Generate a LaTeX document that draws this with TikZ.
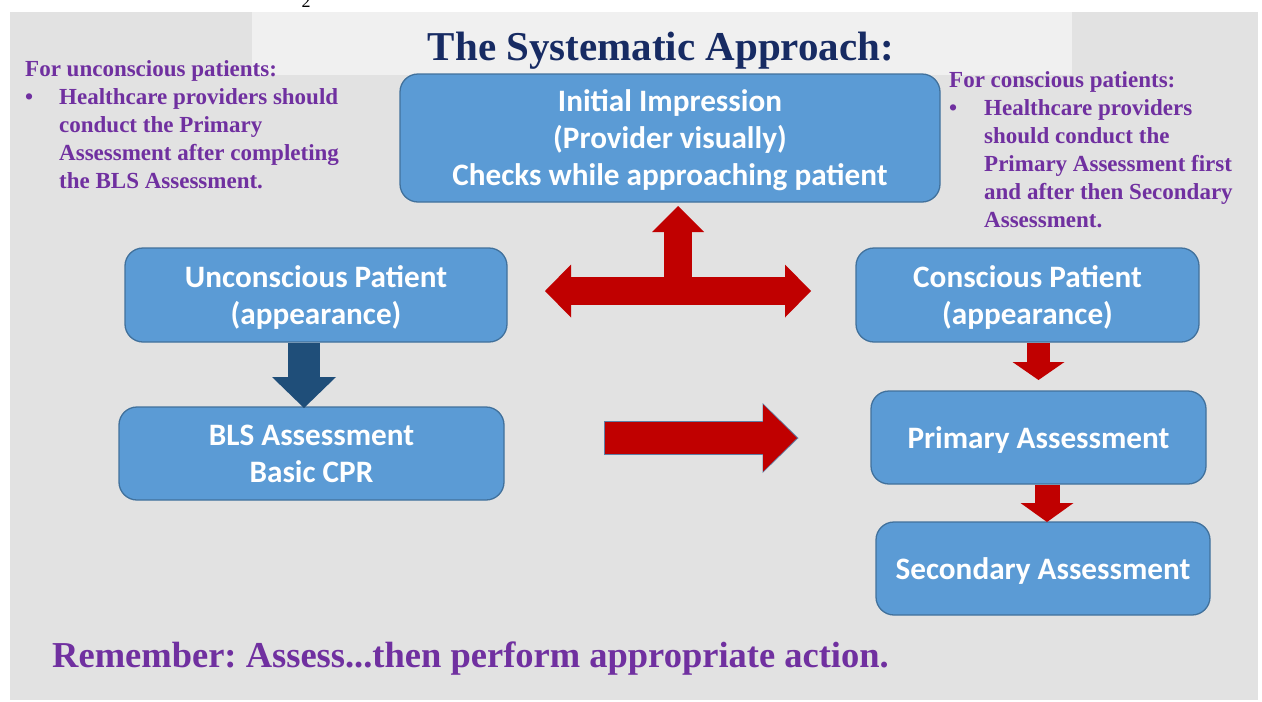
\documentclass[tikz,border=0pt]{standalone}
\usepackage{fontspec}
\setmainfont{Liberation Serif}
\newfontfamily\boxfont{Carlito}
\usetikzlibrary{arrows.meta}

\definecolor{slidegray}{HTML}{E2E2E2}
\definecolor{titleband}{HTML}{F0F0F0}
\definecolor{boxfill}{HTML}{5B9BD5}
\definecolor{boxedge}{HTML}{41719C}
\definecolor{arrowred}{HTML}{C00000}
\definecolor{arrowblue}{HTML}{1F4E79}
\definecolor{arrowrim}{HTML}{5F7FA6}
\definecolor{notepurple}{HTML}{7030A0}
\definecolor{titlenavy}{HTML}{172B63}

\tikzset{
  stepbox/.style={rectangle, rounded corners=18pt, draw=boxedge, line width=1.3pt,
    fill=boxfill, text=white, font=\boxfont\bfseries\fontsize{31.2}{37}\selectfont,
    align=center, inner sep=0pt, text depth=0pt},
  note/.style={text=notepurple, font=\bfseries\fontsize{23}{28}\selectfont,
    align=left, inner sep=0pt, anchor=north west},
  blockarrow/.style n args={4}{draw=#4, line width=#1,
    -{Triangle[width=#2, length=#3, line width=0pt]}},
  twinarrow/.style n args={4}{draw=#4, line width=#1,
    {Triangle[width=#2, length=#3, line width=0pt]}-{Triangle[width=#2, length=#3, line width=0pt]}},
}

\begin{document}
\begin{tikzpicture}[x=1pt, y=-1pt]

  \useasboundingbox (0,0) rectangle (1262,702);
  \fill[white] (0,0) rectangle (1262,702);
  \fill[slidegray] (10,12) rectangle (1258,700);
  \fill[titleband] (252,12) rectangle (1072,75);

  \node[anchor=base, font=\fontsize{18}{20}\selectfont, inner sep=0pt] (pagenum) at (306,7) {2};
  \node[anchor=base, text=titlenavy, font=\bfseries\fontsize{41}{44}\selectfont, inner sep=0pt]
    (title) at (661,60) {The Systematic Approach:};

  % boxes
  \node[stepbox, minimum width=540pt, minimum height=128pt] (impression) at (670,138)
    {Initial Impression\\(Provider visually)\\Checks while approaching patient};
  \node[stepbox, minimum width=382pt, minimum height=94pt] (uncon) at (316,295)
    {Unconscious Patient\\(appearance)};
  \node[stepbox, minimum width=343pt, minimum height=94pt] (con) at (1027.5,295)
    {Conscious Patient\\(appearance)};
  \node[stepbox, minimum width=385pt, minimum height=93pt, text depth=-4pt] (bls) at (311.5,453.5)
    {BLS Assessment\\Basic CPR};
  \node[stepbox, minimum width=335pt, minimum height=93pt] (primary) at (1038.5,437.5)
    {Primary Assessment};
  \node[stepbox, minimum width=334pt, minimum height=93pt] (secondary) at (1043,568.5)
    {Secondary Assessment};

  % notes
  \node[note] (uncnote) at (25,60) {For unconscious patients:\\
    \makebox[34pt][l]{\textbullet}Healthcare providers should\\
    \hspace*{34pt}conduct the Primary\\
    \hspace*{34pt}Assessment after completing\\
    \hspace*{34pt}the BLS Assessment.};
  \node[note] (connote) at (949,71) {For conscious patients:\\
    \makebox[35pt][l]{\textbullet}Healthcare providers\\
    \hspace*{35pt}should conduct the\\
    \hspace*{35pt}Primary Assessment first\\
    \hspace*{35pt}and after then Secondary\\
    \hspace*{35pt}Assessment.};

  \node[anchor=base west, text=notepurple, font=\bfseries\fontsize{36.5}{40}\selectfont\frenchspacing, inner sep=0pt]
    (remember) at (52,667) {Remember: Assess...then perform appropriate action.};

  % arrow ends
  \coordinate (tleft) at (545,291);
  \coordinate (tright) at (811,291);
  \coordinate (tmid) at (678,291);
  \coordinate (tup) at (678,206);
  \coordinate (blsout) at (605,438);
  \coordinate (primin) at (797,438);
  \coordinate (unconout) at (304,343);
  \coordinate (blsin) at (304,408);
  \coordinate (conout) at (1038.5,343);
  \coordinate (primtop) at (1038.5,380);
  \coordinate (primout) at (1047,485);
  \coordinate (secin) at (1047,522);

  % arrows
  \draw[twinarrow={28pt}{53pt}{26pt}{arrowred}] (tleft) -- (tright);
  \draw[blockarrow={28pt}{52pt}{26pt}{arrowred}] (tmid) -- (tup);
  \draw[blockarrow={34pt}{70pt}{36pt}{arrowrim}, shorten <=-1pt, shorten >=-1.5pt] (blsout) -- (primin);
  \draw[blockarrow={32pt}{67pt}{34pt}{arrowred}] (blsout) -- (primin);
  \draw[blockarrow={32pt}{64pt}{31pt}{arrowblue}] (unconout) -- (blsin);
  \draw[blockarrow={23pt}{52pt}{18pt}{arrowred}] (conout) -- (primtop);
  \draw[blockarrow={25pt}{53pt}{19pt}{arrowred}] (primout) -- (secin);

\end{tikzpicture}
\end{document}
